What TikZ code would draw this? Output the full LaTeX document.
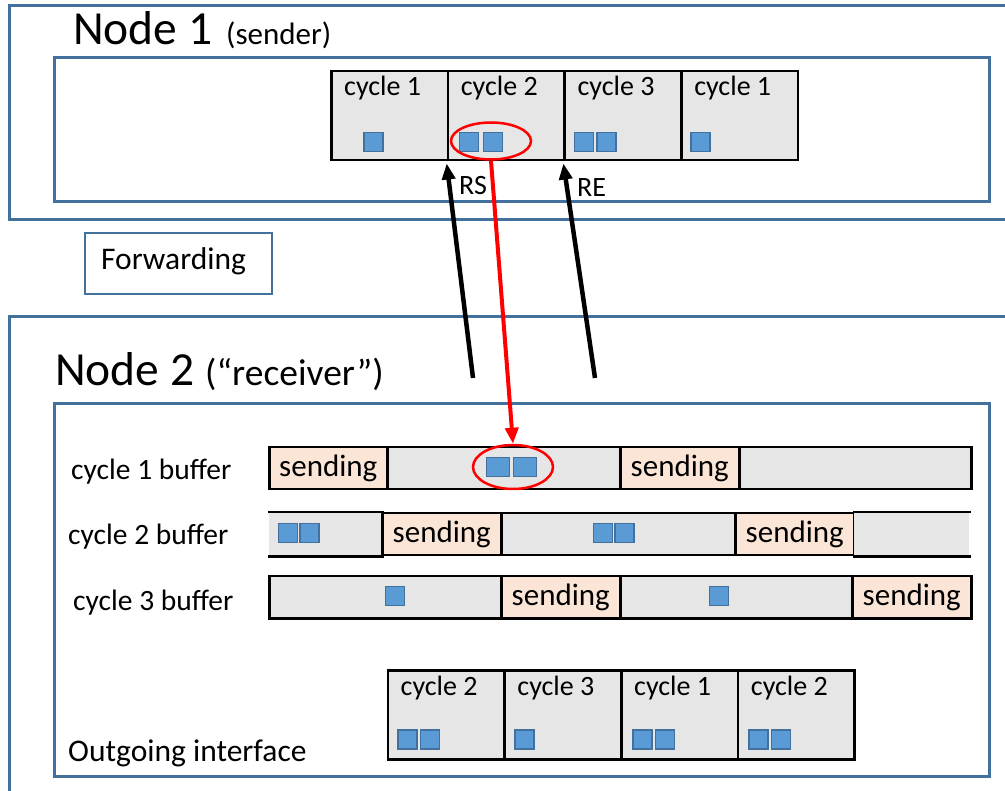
\documentclass[tikz,border=0pt]{standalone}
\usepackage{fontspec}
\setmainfont{Carlito}
\usetikzlibrary{shapes.geometric,arrows.meta,calc}
\definecolor{frameblue}{RGB}{65,113,156}
\definecolor{cellgray}{RGB}{230,230,230}
\definecolor{sendfill}{RGB}{251,229,214}
\definecolor{pktfill}{RGB}{91,155,213}
\definecolor{pktline}{RGB}{65,113,156}
\newcommand{\fsz}[1]{\fontsize{#1}{#1}\selectfont}
\begin{document}
\begin{tikzpicture}[x=1pt,y=-1pt,
  frame/.style={draw=frameblue,line width=3pt,fill=none,inner sep=0pt,anchor=north west},
  cell/.style={draw=black,line width=2.5pt,fill=cellgray,inner sep=0pt,anchor=north west,
               minimum width=116.7pt,minimum height=89pt},
  celltxt/.style={inner sep=0pt,anchor=base west,font=\fsz{28}},
  pkt/.style={draw=pktline,fill=pktfill,line width=1.5pt,inner sep=0pt,minimum size=19pt},
  wpkt/.style={pkt,minimum width=23pt,minimum height=19pt},
  seg/.style={draw=black,line width=2.5pt,inner sep=0pt,anchor=north west,minimum height=42pt},
  idle/.style={seg,fill=cellgray},
  sendseg/.style={seg,fill=sendfill,font=\fsz{31}},
  lbl/.style={inner sep=0pt,anchor=base west},
  hilite/.style={ellipse,draw=red,line width=2.5pt,inner sep=0pt,fill=none},
  ptr/.style={line width=4.5pt,-{Triangle[length=16pt,width=13pt]}}
]
\clip (0,0) rectangle (1005,791);
\useasboundingbox (0,0) rectangle (1005,791);

% ---------------- Node 1 (sender) ----------------
\node[frame,minimum width=1010pt,minimum height=214pt] (n1outer) at (8,4) {};
\node[frame,minimum width=935pt,minimum height=144pt] (n1inner) at (53,56) {};
\node[lbl,font=\fsz{47.5}] (n1title) at (73,45) {Node 1};
\node[lbl,font=\fsz{31}] (n1role) at (226,45) {(sender)};

\foreach \i/\t in {1/1,2/2,3/3,4/1}{
  \node[cell] (c\i) at ({330+(\i-1)*116.7},70) {};
  \node[celltxt] (c\i t) at ($(c\i.north west)+(14,26)$) {cycle \t};
}
\node[pkt] (p11) at (373.5,142) {};
\node[pkt] (p21) at (469,142) {};
\node[pkt] (p22) at (493,142) {};
\node[pkt] (p31) at (584,142) {};
\node[pkt] (p32) at (606.5,142) {};
\node[pkt] (p41) at (700.5,142) {};
\node[hilite,minimum width=80pt,minimum height=37pt] (e1) at (491,141) {};

\node[lbl,font=\fsz{28}] (rs) at (459,195) {RS};
\node[lbl,font=\fsz{28}] (re) at (577,197) {RE};

% ---------------- Forwarding ----------------
\node[frame,line width=2.5pt,minimum width=187pt,minimum height=61pt] (fwd) at (83.5,232) {};
\node[lbl,font=\fsz{31.5}] (fwdt) at (101,270) {Forwarding};

% ---------------- Node 2 (receiver) ----------------
\node[frame,minimum width=1010pt,minimum height=500pt] (n2outer) at (8,315) {};
\node[frame,minimum width=935pt,minimum height=373pt] (n2inner) at (53,402) {};
\node[lbl,font=\fsz{47.5}] (n2title) at (55,386) {Node 2};
\node[lbl,font=\fsz{37.5}] (n2role) at (205,386) {(“receiver”)};

% buffer labels
\node[lbl,font=\fsz{29.5}] (b1l) at (71,480) {cycle 1 buffer};
\node[lbl,font=\fsz{29.5}] (b2l) at (68,545) {cycle 2 buffer};
\node[lbl,font=\fsz{29.5}] (b3l) at (73,610) {cycle 3 buffer};

% cycle 1 buffer
\node[sendseg,minimum width=118pt] (r1a) at (268,446) {sending};
\node[idle,minimum width=233pt]   (r1b) at (386,446) {};
\node[sendseg,minimum width=119pt] (r1c) at (619,446) {sending};
\node[idle,minimum width=232pt]   (r1d) at (738,446) {};
\node[wpkt] (q11) at (498,467) {};
\node[wpkt] (q12) at (525,467) {};
\node[hilite,minimum width=80pt,minimum height=44pt] (e2) at (513,467) {};

% cycle 2 buffer
\node[seg,draw=none,fill=cellgray,minimum width=113pt] (r2a) at (268,512) {};
\draw[line width=2.5pt] (r2a.north west) -- (r2a.north east) (r2a.south west) -- (r2a.south east);
\node[sendseg,minimum width=119pt] (r2b) at (381,512) {sending};
\node[idle,minimum width=234pt]   (r2c) at (500,512) {};
\node[sendseg,minimum width=119pt] (r2d) at (734,512) {sending};
\node[seg,draw=none,fill=cellgray,minimum width=115pt] (r2e) at (853,512) {};
\draw[line width=2.5pt] (r2e.north west) -- (r2e.north east) (r2e.south west) -- (r2e.south east);
\node[pkt] (q21) at (288,533) {};
\node[pkt] (q22) at (309.5,533) {};
\node[pkt] (q23) at (603,533) {};
\node[pkt] (q24) at (624.5,533) {};

% cycle 3 buffer
\node[idle,minimum width=232pt]   (r3a) at (268,575) {};
\node[sendseg,minimum width=119pt] (r3b) at (500,575) {sending};
\node[idle,minimum width=232pt]   (r3c) at (619,575) {};
\node[sendseg,minimum width=119pt] (r3d) at (851,575) {sending};
\node[pkt] (q31) at (395,596) {};
\node[pkt] (q32) at (719,596) {};

% outgoing interface
\foreach \i/\t in {1/2,2/3,3/1,4/2}{
  \node[cell] (o\i) at ({386.5+(\i-1)*116.75},669) {};
  \node[celltxt] (o\i t) at ($(o\i.north west)+(14,26)$) {cycle \t};
}
\node[pkt] (s11) at (407.5,739.5) {};
\node[pkt] (s12) at (430,739.5) {};
\node[pkt] (s21) at (524.5,739.5) {};
\node[pkt] (s31) at (642.5,739.5) {};
\node[pkt] (s32) at (665,739.5) {};
\node[pkt] (s41) at (758.5,739.5) {};
\node[pkt] (s42) at (781,739.5) {};
\node[lbl,font=\fsz{31.5}] (outl) at (68,761) {Outgoing interface};

% ---------------- connectors ----------------
\coordinate (rstail) at (473,378);
\coordinate (retail) at (595,378);
\draw[ptr] (rstail) -- ($(c2.south west)+(0,2)$);
\draw[ptr] (retail) -- ($(c3.south west)+(0,2)$);
\draw[ptr,red,line width=4pt] (e1.south) -- (e2.north);
\end{tikzpicture}
\end{document}
